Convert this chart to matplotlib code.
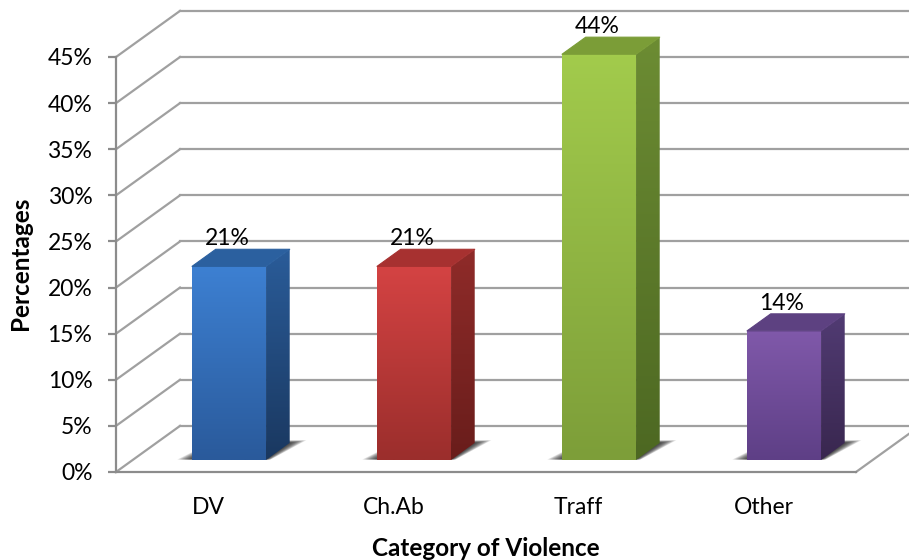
import numpy as np
import matplotlib
matplotlib.use('Agg')
import matplotlib.pyplot as plt
from matplotlib.colors import LinearSegmentedColormap
from matplotlib.patches import Polygon
from matplotlib.ticker import PercentFormatter

categories = ['DV', 'Ch.Ab', 'Traff', 'Other']
percentages = [21, 21, 44, 14]
y_ticks = [0, 5, 10, 15, 20, 25, 30, 35, 40, 45]

front_colors = [('#3d80d2', '#2a5a9b'), ('#d44343', '#9b2e2c'), ('#a2cb4c', '#7d9e39'), ('#8059aa', '#5e3f86')]
side_colors = [('#2a5c99', '#1a3860'), ('#8f2b29', '#691d1b'), ('#6c8c33', '#4d6822'), ('#513b73', '#39274f')]
top_colors = ['#2b609f', '#a73130', '#7b9d37', '#5d4181']

GRID = '#a0a0a0'
AXIS = '#8c8c8c'

# oblique projection: one unit of depth moves this far in data units
DEPTH_X = 0.346
DEPTH_Y = 5.0
BAR_WIDTH = 0.4
BAR_SHIFT = 0.111
BAR_FRONT = 0.26
BAR_DEPTH = 0.37

plt.rcParams['font.family'] = ['Lato', 'DejaVu Sans']


def gradient_poly(ax, pts, colors):
    # image gradient clipped to a polygon
    pts = np.array(pts)
    cmap = LinearSegmentedColormap.from_list('g', colors)
    grad = np.linspace(0, 1, 128).reshape(-1, 1)
    extent = (pts[:, 0].min(), pts[:, 0].max(), pts[:, 1].min(), pts[:, 1].max())
    im = ax.imshow(grad, extent=extent, origin='upper', aspect='auto', cmap=cmap,
                   zorder=4, interpolation='bilinear')
    im.set_clip_box(ax.figure.bbox)
    im.set_clip_path(Polygon(pts, closed=True, transform=ax.transData))


def draw_bar(ax, i, value):
    x0 = i + 0.5 + BAR_SHIFT - BAR_WIDTH / 2
    x1 = x0 + BAR_WIDTH
    y0 = BAR_FRONT * DEPTH_Y
    y1 = y0 + value
    dx = BAR_DEPTH * DEPTH_X
    dy = BAR_DEPTH * DEPTH_Y

    # soft floor shadow, stacked from wide to narrow
    for k in range(10):
        s = 1 - k / 10
        shadow = [(x0 - 0.08 * s, y0 + 0.05), (x1 + 0.025 * s, y0 + 0.05),
                  (x1 + dx + 0.09 * s, y0 + dy + 0.3 * s), (x0 + dx, y0 + dy + 0.3 * s)]
        ax.add_patch(Polygon(shadow, closed=True, fc='black', ec='none', alpha=0.11,
                             zorder=3, clip_on=False))

    gradient_poly(ax, [(x1, y0), (x1 + dx, y0 + dy), (x1 + dx, y1 + dy), (x1, y1)], side_colors[i])
    gradient_poly(ax, [(x0, y0), (x1, y0), (x1, y1), (x0, y1)], front_colors[i])
    ax.add_patch(Polygon([(x0, y1), (x1, y1), (x1 + dx, y1 + dy), (x0 + dx, y1 + dy)],
                         closed=True, fc=top_colors[i], ec=top_colors[i], lw=0.8,
                         joinstyle='round', zorder=5, clip_on=False))
    ax.annotate(f'{value}%', (x0 + BAR_WIDTH / 2, y1 + dy), xytext=(-1.5, 0),
                textcoords='offset points', ha='center', va='bottom',
                fontsize=16.5, color='black', zorder=6, annotation_clip=False)


fig = plt.figure(figsize=(9.09, 5.60), dpi=100)
ax = fig.add_axes([116 / 909, 88 / 560, 740 / 909, 415 / 560])
ax.patch.set_visible(False)
n = len(categories)

# back wall, side wall and floor lines
for t in y_ticks:
    ax.plot([0, DEPTH_X], [t, t + DEPTH_Y], color=GRID, lw=1.6, clip_on=False, zorder=1)
    ax.plot([DEPTH_X, n + DEPTH_X], [t + DEPTH_Y, t + DEPTH_Y], color=GRID, lw=1.6,
            clip_on=False, zorder=1)
ax.plot([n, n + DEPTH_X], [0, DEPTH_Y], color=GRID, lw=1.6, clip_on=False, zorder=1)

for i, value in enumerate(percentages):
    draw_bar(ax, i, value)

ax.set_xlim(0, n)
ax.set_ylim(0, 45)

for side in ['top', 'right']:
    ax.spines[side].set_visible(False)
for side in ['left', 'bottom']:
    ax.spines[side].set_color(AXIS)
    ax.spines[side].set_linewidth(1.6)

ax.set_yticks(y_ticks)
ax.yaxis.set_major_formatter(PercentFormatter(decimals=0))
ax.tick_params(axis='y', length=6, width=1.6, color=AXIS, labelsize=16.5, pad=11)
ax.set_xticks(np.arange(n) + 0.5)
ax.set_xticklabels(categories)
ax.tick_params(axis='x', length=0, labelsize=16.5, pad=18)

fig.text(486 / 909, 1 - 548 / 560, 'Category of Violence', fontsize=17.5, fontweight='bold',
         ha='center', va='center')
fig.text(20 / 909, 1 - 263 / 560, 'Percentages', fontsize=17.5, fontweight='bold',
         rotation=90, ha='center', va='center')

fig.savefig('out.png', dpi=100)
